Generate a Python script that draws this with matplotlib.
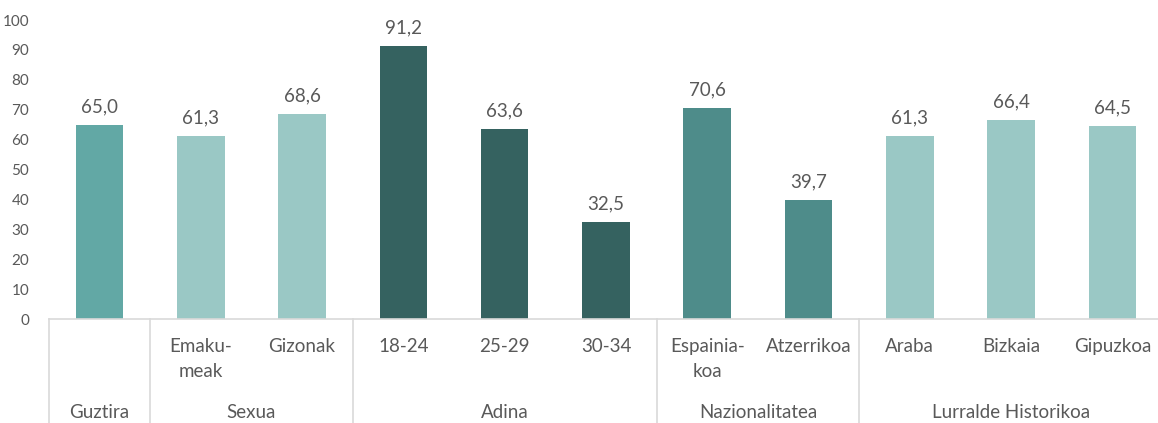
import numpy as np
import matplotlib.pyplot as plt
from matplotlib.transforms import blended_transform_factory

plt.rcParams['font.family'] = ['Lato', 'DejaVu Sans']

categories = ['', 'Emaku-\nmeak', 'Gizonak', '18-24', '25-29', '30-34',
              'Espainia-\nkoa', 'Atzerrikoa', 'Araba', 'Bizkaia', 'Gipuzkoa']
values = [65.0, 61.3, 68.6, 91.2, 63.6, 32.5, 70.6, 39.7, 61.3, 66.4, 64.5]
groups = ['Guztira', 'Sexua', 'Adina', 'Nazionalitatea', 'Lurralde Historikoa']
group_sizes = [1, 2, 3, 2, 3]
group_colors = ['#62A8A5', '#9AC8C5', '#356260', '#4E8C8A', '#9AC8C5']

colors = []
for c, n in zip(group_colors, group_sizes):
    colors += [c] * n

fig = plt.figure(figsize=(11.58, 4.23), dpi=100)
ax = fig.add_axes([48.8 / 1158, 104 / 423, (1158 - 48.8) / 1158, 299 / 423])

x = np.arange(len(values))
ax.bar(x, values, width=0.47, color=colors)
ax.set_xlim(-0.5, 10.45)
ax.set_ylim(0, 100)

txt = '#595959'
for xi, v in zip(x, values):
    ax.annotate(f'{v:.1f}'.replace('.', ','), (xi, v), xytext=(0, 7),
                textcoords='offset points', ha='center', va='bottom',
                fontsize=13.5, color=txt)

ax.set_yticks(range(0, 101, 10))
ax.tick_params(axis='y', length=0, labelsize=11, labelcolor=txt, pad=14)
ax.set_xticks([])
for s in ['top', 'right', 'left']:
    ax.spines[s].set_visible(False)
ax.spines['bottom'].set_color('#D9D9D9')
ax.spines['bottom'].set_linewidth(1.2)

trans = blended_transform_factory(ax.transData, ax.transAxes)
px = 1 / 299
for xi, lab in zip(x, categories):
    ax.text(xi, -19 * px, lab, transform=trans, ha='center', va='top',
            fontsize=13.5, color=txt, linespacing=1.6)

bounds = np.cumsum([0] + group_sizes) - 0.5
for b in bounds[:-1]:
    ax.plot([b, b], [0, -104 * px], transform=trans, color='#D9D9D9',
            lw=1.2, clip_on=False)
for g, lo, hi in zip(groups, bounds[:-1], bounds[1:]):
    ax.text((lo + hi) / 2, -93 * px, g, transform=trans, ha='center',
            va='center', fontsize=13.5, color=txt)

fig.savefig('out.png')
